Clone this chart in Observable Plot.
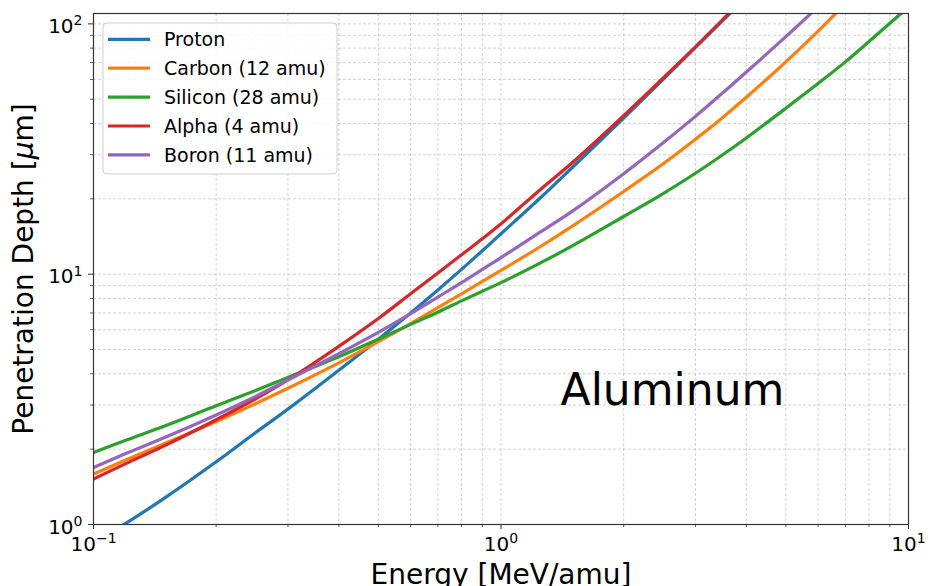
<!DOCTYPE html>
<html>
<head>
<meta charset="utf-8">
<script src="https://cdn.jsdelivr.net/npm/d3@7"></script>
<script src="https://cdn.jsdelivr.net/npm/@observablehq/plot@0.6"></script>
<style>
  body { margin: 0; background: #fff; }
  #chart { width: 928px; height: 586px; overflow: hidden; }
</style>
</head>
<body>
<div id="chart"></div>
<script>
// ---- data ----
const energy = [0.1, 0.12, 0.15, 0.2, 0.25, 0.3, 0.4, 0.5, 0.6, 0.7, 0.8, 0.9, 1.0, 1.25, 1.5, 2, 2.5, 3, 3.5, 4, 5, 6, 7, 8, 9, 10];
const proton  = [0.84, 1.01, 1.28, 1.78, 2.33, 2.89, 4.13, 5.5, 7.0, 8.65, 10.45, 12.4, 14.5, 20.2, 26.8, 42.0, 60.0, 80.5, 103, 128, null, null, null, null, null, null];
const carbon  = [1.59, 1.81, 2.11, 2.58, 3.04, 3.50, 4.42, 5.38, 6.35, 7.35, 8.35, 9.35, 10.35, 12.9, 15.6, 21.4, 27.6, 34.6, 42.3, 50.9, 70.5, 93.5, 120.6, null, null, null];
const silicon = [1.94, 2.17, 2.48, 2.98, 3.43, 3.87, 4.68, 5.5, 6.3, 7.05, 7.82, 8.55, 9.25, 11.1, 13.0, 17.0, 21.0, 25.3, 30, 35.0, 46.0, 57.8, 70.5, 85, 100.5, 117];
const alpha   = [1.52, 1.75, 2.07, 2.62, 3.18, 3.78, 5.15, 6.65, 8.35, 10.1, 11.95, 13.85, 15.9, 21.8, 28.0, 43, 60.8, 81.0, 104, 130, null, null, null, null, null, null];
const boron   = [1.69, 1.92, 2.23, 2.74, 3.25, 3.78, 4.81, 5.85, 6.95, 8.1, 9.25, 10.45, 11.65, 14.75, 17.9, 25.2, 33.5, 42.7, 53.0, 64.2, 88.9, 117, null, null, null, null];

const seriesNames  = ["Proton", "Carbon (12 amu)", "Silicon (28 amu)", "Alpha (4 amu)", "Boron (11 amu)"];
const seriesValues = [proton, carbon, silicon, alpha, boron];
const seriesColors = ["#1f77b4", "#ff7f0e", "#2ca02c", "#d62728", "#9467bd"];

const tickBase = "10";
const xTicks = [0.1, 1, 10];
const xTickExp = ["−1", "0", "1"];
const xMinor = [0.2, 0.3, 0.4, 0.5, 0.6, 0.7, 0.8, 0.9, 2, 3, 4, 5, 6, 7, 8, 9];
const yTicks = [1, 10, 100];
const yTickExp = ["0", "1", "2"];
const yMinor = [2, 3, 4, 5, 6, 7, 8, 9, 20, 30, 40, 50, 60, 70, 80, 90];

const xLabel = "Energy [MeV/amu]";
const yLabel = "Penetration Depth [μm]";
const annoText = "Aluminum";
const annoX = 1.4;
const annoY = 3;

// ---- build table ----
const table = [];
seriesValues.forEach((vals, i) => {
  vals.forEach((v, j) => {
    if (v != null) table.push({series: seriesNames[i], energy: energy[j], depth: v});
  });
});

const gridStyle = {stroke: "#b0b0b0", strokeOpacity: 0.7, strokeDasharray: "3,2", strokeWidth: 0.8};

const plot = Plot.plot({
  width: 928,
  height: 586,
  marginLeft: 93,
  marginRight: 20,
  marginTop: 13,
  marginBottom: 62,
  style: {fontFamily: "'DejaVu Sans', sans-serif", color: "#333", background: "#fff"},
  x: {type: "log", domain: [0.1, 10]},
  y: {type: "log", domain: [1, 110]},
  color: {domain: seriesNames, range: seriesColors},
  marks: [
    Plot.gridX([...xTicks, ...xMinor], gridStyle),
    Plot.gridY([...yTicks, ...yMinor], gridStyle),
    Plot.line(table, {x: "energy", y: "depth", z: "series", stroke: "series", strokeWidth: 3.2, curve: "catmull-rom", clip: true}),
    Plot.frame({stroke: "#333", strokeWidth: 1.2}),
    Plot.axisX(xTicks, {tickSize: 5, tickFormat: () => "", label: null, strokeWidth: 1}),
    Plot.axisX(xMinor, {tickSize: 3, tickFormat: () => "", label: null, strokeWidth: 0.8}),
    Plot.axisY(yTicks, {tickSize: 5, tickFormat: () => "", label: null, strokeWidth: 1}),
    Plot.axisY(yMinor, {tickSize: 3, tickFormat: () => "", label: null, strokeWidth: 0.8}),
    Plot.text(xTicks, {x: d => d, frameAnchor: "bottom", textAnchor: "middle", lineAnchor: "top", dy: 12,
      text: d => tickBase + xTickExp[xTicks.indexOf(d)], fontSize: 20, fill: "black", className: "tick-lab"}),
    Plot.text(yTicks, {y: d => d, frameAnchor: "left", textAnchor: "end", lineAnchor: "middle", dx: -11, dy: 2.6,
      text: d => tickBase + yTickExp[yTicks.indexOf(d)], fontSize: 20, fill: "black", className: "tick-lab"}),
    Plot.text([xLabel], {frameAnchor: "bottom", textAnchor: "middle", lineAnchor: "middle", dy: 50.5, fontSize: 28, fill: "black"}),
    Plot.text([yLabel], {frameAnchor: "left", textAnchor: "middle", lineAnchor: "middle", rotate: -90, dx: -69, fontSize: 28, fill: "black", className: "y-lab"}),
    Plot.text([annoText], {x: () => annoX, y: () => annoY, textAnchor: "start", lineAnchor: "bottom", fontSize: 44, fill: "black"})
  ]
});

const svg = d3.select(plot);

// superscript exponents on the tick labels (10^n)
svg.selectAll(".tick-lab text").each(function() {
  const s = this.textContent;
  const base = s.slice(0, tickBase.length), exp = s.slice(tickBase.length);
  const t = d3.select(this);
  t.text(null);
  t.append("tspan").text(base);
  t.append("tspan").attr("dy", -7.5).attr("font-size", 14).text(exp);
});

// italic mu in the y label (math text)
svg.selectAll(".y-lab text").each(function() {
  const s = this.textContent;
  const k = s.indexOf("μ");
  if (k < 0) return;
  const t = d3.select(this);
  t.text(null);
  t.append("tspan").text(s.slice(0, k));
  t.append("tspan").attr("font-style", "italic").text("μ");
  t.append("tspan").text(s.slice(k + 1));
});

// ---- legend inside the plot area ----
const lg = svg.append("g").attr("font-family", "'DejaVu Sans', sans-serif").attr("text-anchor", "start");
lg.append("rect")
  .attr("x", 103).attr("y", 23).attr("width", 234).attr("height", 151)
  .attr("rx", 4).attr("fill", "white").attr("fill-opacity", 0.8)
  .attr("stroke", "#d0d0d0").attr("stroke-width", 1);
seriesNames.forEach((name, i) => {
  const cy = 39.3 + i * 28.9;
  lg.append("line").attr("x1", 108).attr("x2", 150).attr("y1", cy).attr("y2", cy)
    .attr("stroke", seriesColors[i]).attr("stroke-width", 3.2);
  lg.append("text").attr("x", 164).attr("y", cy).attr("dy", "0.35em")
    .attr("text-anchor", "start")
    .attr("font-size", 19).attr("fill", "black").text(name);
});

document.getElementById("chart").appendChild(plot);
</script>
</body>
</html>
